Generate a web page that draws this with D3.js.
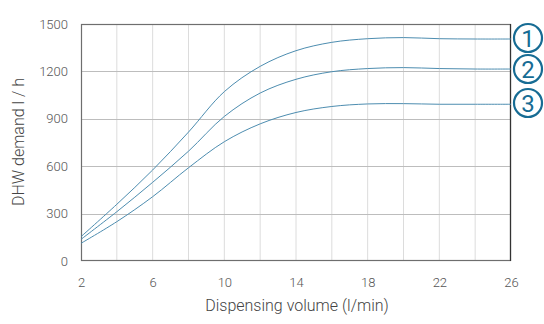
<!DOCTYPE html>
<html><head><meta charset="utf-8">
<script src="https://cdn.jsdelivr.net/npm/d3@7"></script>
<style>body{margin:0;background:#fff}svg{display:block}text{font-family:Roboto,"Noto Sans",sans-serif}</style>
</head><body><svg id="c" width="544" height="324"></svg>
<script>
const xValues = [2,4,6,8,10,12,14,16,18,20,22,24,26];
const series1 = [154,359,576,816,1072,1232,1331,1384,1407,1414,1407,1405,1405];
const series2 = [137,312,498,695,915,1063,1150,1198,1218,1224,1218,1215,1215];
const series3 = [112,249,407,590,755,868,940,978,994,996,992,992,992];
const seriesLabels = ["1","2","3"];
const xTicks = [2,6,10,14,18,22,26];
const yTicks = [0,300,600,900,1200,1500];

const svg = d3.select("#c");
const m = {l:81, r:511, t:24, b:261};
const x = d3.scaleLinear().domain([2,26]).range([m.l,m.r]);
const y = d3.scaleLinear().domain([0,1500]).range([m.b,m.t]);

// vertical grid
svg.append("g").selectAll("line").data(d3.range(4,26,2)).join("line")
  .attr("x1",d=>x(d)).attr("x2",d=>x(d)).attr("y1",m.t).attr("y2",m.b)
  .attr("stroke","#dcdcdc").attr("stroke-width",1);
// horizontal grid
svg.append("g").selectAll("line").data(yTicks.slice(1,-1)).join("line")
  .attr("x1",m.l).attr("x2",m.r).attr("y1",d=>Math.round(y(d))+0.5).attr("y2",d=>Math.round(y(d))+0.5)
  .attr("stroke","#bdbdbd").attr("stroke-width",1);

// frame
svg.append("rect").attr("x",m.l+0.5).attr("y",m.t+0.5).attr("width",m.r-m.l-1).attr("height",m.b-m.t-1)
  .attr("fill","none").attr("stroke","#6e6e6e").attr("stroke-width",1.2);
svg.append("line").attr("x1",m.r-0.5).attr("x2",m.r-0.5).attr("y1",m.t).attr("y2",m.b)
  .attr("stroke","#333").attr("stroke-width",1.2);

// axes
const xAxis = svg.append("g").attr("transform",`translate(0,${m.b})`)
  .call(d3.axisBottom(x).tickValues(xTicks).tickFormat(d3.format("d")).tickSize(0).tickPadding(17));
xAxis.select(".domain").remove();
xAxis.selectAll("text").attr("fill","#555").style("font-size","13px").style("font-weight","300");
const yAxis = svg.append("g").attr("transform",`translate(${m.l},0)`)
  .call(d3.axisLeft(y).tickValues(yTicks).tickFormat(d3.format("d")).tickSize(0).tickPadding(13));
yAxis.select(".domain").remove();
yAxis.selectAll("text").attr("fill","#555").style("font-size","13px").style("font-weight","300");

// titles
svg.append("text").attr("x",297).attr("y",311).attr("text-anchor","middle")
  .attr("fill","#444").style("font-size","16px").style("font-weight","300").text("Dispensing volume (l/min)");
svg.append("text").attr("transform","translate(24,142) rotate(-90)").attr("text-anchor","middle")
  .attr("fill","#444").style("font-size","16px").style("font-weight","300").text("DHW demand l / h");

// lines
const line = d3.line().x((d,i)=>x(xValues[i])).y(d=>y(d)).curve(d3.curveCatmullRom.alpha(0.5));
[series1,series2,series3].forEach(s=>{
  svg.append("path").datum(s).attr("d",line).attr("fill","none")
    .attr("stroke","#4d8db0").attr("stroke-width",1);
});

// circled labels
const labelY = [38,69,103];
const lg = svg.append("g");
seriesLabels.forEach((t,i)=>{
  lg.append("circle").attr("cx",528).attr("cy",labelY[i]).attr("r",14)
    .attr("fill","#fff").attr("stroke","#176c94").attr("stroke-width",2.2);
  lg.append("text").attr("x",528).attr("y",labelY[i]+8.5).attr("text-anchor","middle")
    .attr("fill","#176c94").style("font-size","24px").text(t);
});
</script></body></html>
